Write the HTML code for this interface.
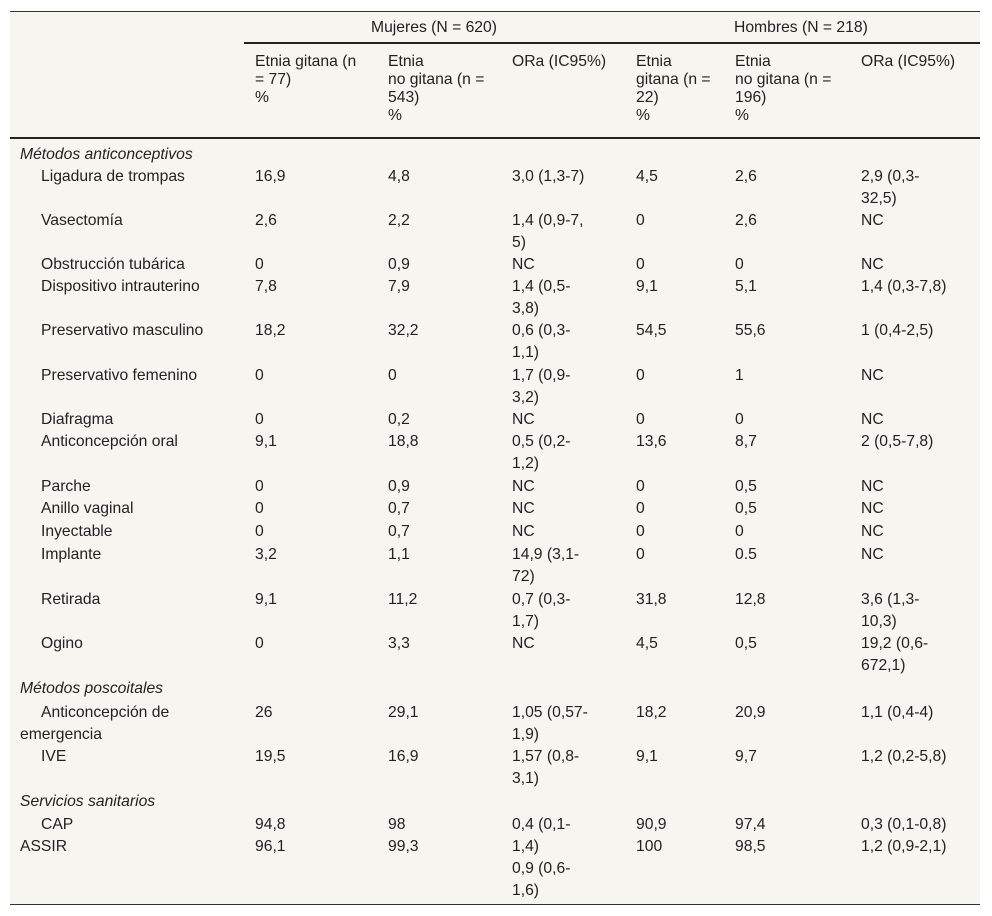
<!DOCTYPE html>
<html><head><meta charset="utf-8"><style>
body{margin:0;background:#fff;width:992px;height:916px;position:relative;font-family:"Liberation Sans",sans-serif;font-size:15.7px;color:#222;overflow:hidden}
#tbl{position:absolute;left:10px;top:11px;width:970px;height:892px;background:#f7f5f0;border-top:1px solid #333;border-bottom:1px solid #333}
.c{position:absolute;line-height:18px;white-space:nowrap}
#body .c{line-height:22px}
.ln{position:absolute;background:#222}
.it{font-style:italic}
</style></head><body>
<div id="tbl"></div>
<div class="ln" style="left:244px;top:42px;width:736px;height:2px"></div>
<div class="ln" style="left:10px;top:137px;width:970px;height:2px"></div>
<div class="c" style="left:371px;top:19px">Mujeres (N = 620)</div>
<div class="c" style="left:734px;top:19px">Hombres (N = 218)</div>
<div class="c" style="left:255px;top:53px">Etnia gitana (n<br>= 77)<br>%</div>
<div class="c" style="left:388px;top:53px">Etnia<br>no gitana (n =<br>543)<br>%</div>
<div class="c" style="left:512px;top:53px">ORa (IC95%)</div>
<div class="c" style="left:636px;top:53px">Etnia<br>gitana (n =<br>22)<br>%</div>
<div class="c" style="left:735px;top:53px">Etnia<br>no gitana (n =<br>196)<br>%</div>
<div class="c" style="left:861px;top:53px">ORa (IC95%)</div>
<div id="body"></div>
<script>
var rows=[
[144,"Métodos anticonceptivos",1],
[166,"Ligadura de trompas",0,"16,9","4,8","3,0 (1,3-7)","4,5","2,6","2,9 (0,3-<br>32,5)"],
[210,"Vasectomía",0,"2,6","2,2","1,4 (0,9-7,<br>5)","0","2,6","NC"],
[254,"Obstrucción tubárica",0,"0","0,9","NC","0","0","NC"],
[276,"Dispositivo intrauterino",0,"7,8","7,9","1,4 (0,5-<br>3,8)","9,1","5,1","1,4 (0,3-7,8)"],
[320,"Preservativo masculino",0,"18,2","32,2","0,6 (0,3-<br>1,1)","54,5","55,6","1 (0,4-2,5)"],
[365,"Preservativo femenino",0,"0","0","1,7 (0,9-<br>3,2)","0","1","NC"],
[409,"Diafragma",0,"0","0,2","NC","0","0","NC"],
[431,"Anticoncepción oral",0,"9,1","18,8","0,5 (0,2-<br>1,2)","13,6","8,7","2 (0,5-7,8)"],
[476,"Parche",0,"0","0,9","NC","0","0,5","NC"],
[498,"Anillo vaginal",0,"0","0,7","NC","0","0,5","NC"],
[521,"Inyectable",0,"0","0,7","NC","0","0","NC"],
[544,"Implante",0,"3,2","1,1","14,9 (3,1-<br>72)","0","0.5","NC"],
[589,"Retirada",0,"9,1","11,2","0,7 (0,3-<br>1,7)","31,8","12,8","3,6 (1,3-<br>10,3)"],
[633,"Ogino",0,"0","3,3","NC","4,5","0,5","19,2 (0,6-<br>672,1)"],
[678,"Métodos poscoitales",1],
[702,"Anticoncepción de<br><span style='margin-left:-21px'>emergencia</span>",0,"26","29,1","1,05 (0,57-<br>1,9)","18,2","20,9","1,1 (0,4-4)"],
[746,"IVE",0,"19,5","16,9","1,57 (0,8-<br>3,1)","9,1","9,7","1,2 (0,2-5,8)"],
[791,"Servicios sanitarios",1],
[814,"CAP",0,"94,8","98","0,4 (0,1-<br>1,4)<br>0,9 (0,6-<br>1,6)","90,9","97,4","0,3 (0,1-0,8)"],
[836,"ASSIR",2,"96,1","99,3","","100","98,5","1,2 (0,9-2,1)"]
];
var xs=[255,388,512,636,735,861];
var b=document.getElementById('body');
rows.forEach(function(r){
  var d=document.createElement('div');d.className='c';
  
  
  d.style.top=r[0]+'px';
  d.style.left=(r[2]==1||r[2]==2?20:41)+'px';
  if(r[2]==1)d.className+=' it';
  d.innerHTML=r[1];b.appendChild(d);
  for(var i=0;i<6;i++){if(r[3+i]===undefined)continue;
    var e=document.createElement('div');e.className='c';
    
    
    e.style.top=r[0]+'px';e.style.left=xs[i]+'px';e.innerHTML=r[3+i];b.appendChild(e);}
});
</script>
</body></html>
